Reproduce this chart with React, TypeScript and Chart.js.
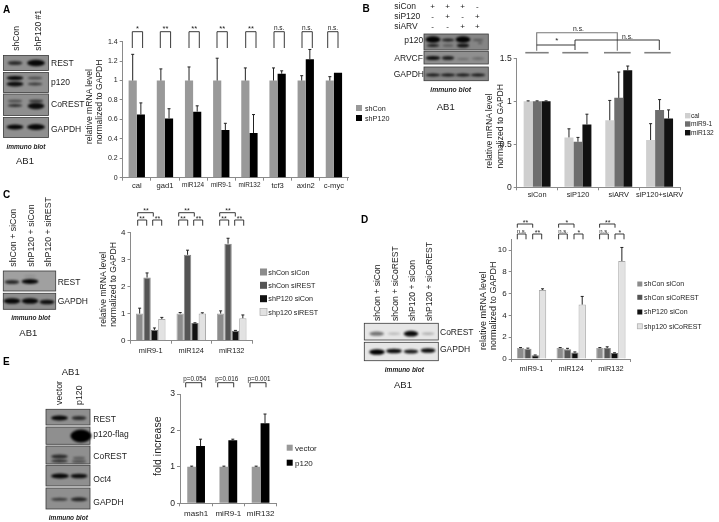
import React, { useEffect, useRef } from "react";
import { Chart, registerables } from "chart.js";

Chart.register(...registerables);

// ---------- data ----------
const aCategories = ["cal", "gad1", "miR124", "miR9-1", "miR132", "tcf3", "axin2", "c-myc"];
const aShCon = [1, 1, 1, 1, 1, 1, 1, 1];
const aShP120 = [0.65, 0.61, 0.68, 0.49, 0.46, 1.07, 1.22, 1.08];
const aShConErr = [0.27, 0.12, 0.14, 0.23, 0.13, 0.13, 0.05, 0.04];
const aShP120Err = [0.12, 0.1, 0.06, 0.07, 0.19, 0.03, 0.1, 0];

const bCategories = ["siCon", "siP120", "siARV", "siP120+siARV"];
const bCal = [1, 0.58, 0.78, 0.55];
const bMiR9 = [1, 0.53, 1.04, 0.9];
const bMiR132 = [1, 0.73, 1.36, 0.8];
const bCalErr = [0.005, 0.1, 0.23, 0.19];
const bMiR9Err = [0.005, 0.05, 0.3, 0.12];
const bMiR132Err = [0.005, 0.12, 0.05, 0.1];

const cCategories = ["miR9-1", "miR124", "miR132"];
const cShConSiCon = [1, 1, 1];
const cShConSiRest = [2.33, 3.17, 3.58];
const cShP120SiCon = [0.4, 0.65, 0.37];
const cShp120SiRest = [0.8, 1.0, 0.83];
const cErr1 = [0.2, 0.04, 0.1];
const cErr2 = [0.17, 0.17, 0.2];
const cErr3 = [0.07, 0.01, 0.01];
const cErr4 = [0.06, 0.03, 0.12];

const dCategories = ["miR9-1", "miR124", "miR132"];
const dShConSiCon = [1, 1, 1];
const dShConSiCoRest = [0.95, 0.9, 1.0];
const dShP120SiCon = [0.35, 0.6, 0.55];
const dShp120SiCoRest = [6.35, 5.0, 9.0];
const dErr1 = [0.05, 0.05, 0.05];
const dErr2 = [0.05, 0.08, 0.12];
const dErr3 = [0.02, 0.05, 0.02];
const dErr4 = [0.1, 0.75, 1.25];

const eCategories = ["mash1", "miR9-1", "miR132"];
const eVector = [1, 1, 1];
const eP120 = [1.57, 1.73, 2.2];
const eVectorErr = [0.02, 0.02, 0.02];
const eP120Err = [0.19, 0.03, 0.25];

// ---------- chart plumbing ----------
const FONT = "'Liberation Sans', Arial, sans-serif";
const TXT = "#222";
const AXIS = "#8a8a8a";

const errorBars = {
  id: "errorBars",
  afterDatasetsDraw(chart: any) {
    const { ctx } = chart;
    const y = chart.scales.y;
    chart.data.datasets.forEach((ds: any, i: number) => {
      const meta = chart.getDatasetMeta(i);
      meta.data.forEach((el: any, j: number) => {
        const err = ds.errors[j];
        if (!err) return;
        const y0 = y.getPixelForValue(ds.data[j]);
        const y1 = y.getPixelForValue(ds.data[j] + err);
        ctx.save();
        ctx.strokeStyle = "#222";
        ctx.lineWidth = 1;
        ctx.beginPath();
        ctx.moveTo(el.x, y0);
        ctx.lineTo(el.x, y1);
        ctx.moveTo(el.x - 1.5, y1);
        ctx.lineTo(el.x + 1.5, y1);
        ctx.stroke();
        ctx.restore();
      });
    });
  },
};

type Series = { label: string; data: number[]; errors: number[]; color: string; border?: string };
type PanelCfg = {
  left: number; right: number; top: number; bottom: number;
  categories: string[]; series: Series[]; max: number; step: number; tickTop?: number;
  group: number; xFont: (l: string) => number; yFont: number; xPad: number;
};

const panels: PanelCfg[] = [
  {
    left: 122.7, right: 348, top: 41.7, bottom: 177.7, categories: aCategories, max: 1.4, step: 0.2,
    group: 0.58, xFont: (l) => (l.startsWith("miR") ? 6.4 : 7.6), yFont: 7, xPad: 1,
    series: [
      { label: "shCon", data: aShCon, errors: aShConErr, color: "#999999" },
      { label: "shP120", data: aShP120, errors: aShP120Err, color: "#000000" },
    ],
  },
  {
    left: 516.7, right: 680, top: 58.3, bottom: 187.3, categories: bCategories, max: 1.5, step: 0.5,
    group: 0.66, xFont: () => 7.4, yFont: 8.6, xPad: 0,
    series: [
      { label: "cal", data: bCal, errors: bCalErr, color: "#cfcfcf" },
      { label: "miR9-1", data: bMiR9, errors: bMiR9Err, color: "#6e6e6e" },
      { label: "miR132", data: bMiR132, errors: bMiR132Err, color: "#111111" },
    ],
  },
  {
    left: 130.5, right: 252, top: 232.3, bottom: 340.7, categories: cCategories, max: 4, step: 1,
    group: 0.73, xFont: () => 7.4, yFont: 8, xPad: 3,
    series: [
      { label: "shCon siCon", data: cShConSiCon, errors: cErr1, color: "#8c8c8c", border: "#a8a8a8" },
      { label: "shCon siREST", data: cShConSiRest, errors: cErr2, color: "#555555", border: "#8a8a8a" },
      { label: "shP120 siCon", data: cShP120SiCon, errors: cErr3, color: "#111111", border: "#777777" },
      { label: "shp120 siREST", data: cShp120SiRest, errors: cErr4, color: "#e2e2e2", border: "#aaaaaa" },
    ],
  },
  {
    left: 511.7, right: 630.7, top: 239.3, bottom: 359, categories: dCategories, max: 11, step: 2, tickTop: 10,
    group: 0.74, xFont: () => 7.4, yFont: 8, xPad: 3,
    series: [
      { label: "shCon siCon", data: dShConSiCon, errors: dErr1, color: "#8c8c8c", border: "#a8a8a8" },
      { label: "shCon siCoREST", data: dShConSiCoRest, errors: dErr2, color: "#555555", border: "#8a8a8a" },
      { label: "shP120 siCon", data: dShP120SiCon, errors: dErr3, color: "#111111", border: "#777777" },
      { label: "shp120 siCoREST", data: dShp120SiCoRest, errors: dErr4, color: "#e2e2e2", border: "#aaaaaa" },
    ],
  },
  {
    left: 180, right: 276.7, top: 394, bottom: 503.3, categories: eCategories, max: 3, step: 1,
    group: 0.55, xFont: () => 8, yFont: 8.6, xPad: 3,
    series: [
      { label: "vector", data: eVector, errors: eVectorErr, color: "#999999" },
      { label: "p120", data: eP120, errors: eP120Err, color: "#000000" },
    ],
  },
];

function PanelChart({ cfg }: { cfg: PanelCfg }) {
  const ref = useRef<HTMLCanvasElement>(null);
  const yw = 26;
  const xh = 18;
  const pad = 10;
  const boxLeft = Math.floor(cfg.left - yw);
  const boxTop = Math.floor(cfg.top - pad);
  const width = Math.ceil(cfg.right + pad) - boxLeft;
  const height = Math.ceil(cfg.bottom + xh) - boxTop;
  useEffect(() => {
    const chart = new Chart(ref.current as HTMLCanvasElement, {
      type: "bar",
      data: {
        labels: cfg.categories,
        datasets: cfg.series.map((s) => ({
          label: s.label,
          data: s.data,
          errors: s.errors,
          backgroundColor: s.color,
          borderColor: s.border ?? s.color,
          borderWidth: s.border ? 1 : 0,
          barPercentage: 1,
          categoryPercentage: cfg.group,
        })) as any,
      },
      options: {
        responsive: false,
        animation: false,
        maintainAspectRatio: false,
        layout: {
          padding: {
            left: 0,
            top: cfg.top - boxTop,
            right: boxLeft + width - cfg.right,
            bottom: 0,
          },
        },
        plugins: { legend: { display: false }, title: { display: false }, tooltip: { enabled: false } },
        scales: {
          x: {
            grid: { drawOnChartArea: false, drawTicks: true, tickLength: 3, color: AXIS },
            border: { display: true, color: AXIS },
            ticks: {
              autoSkip: false,
              maxRotation: 0,
              minRotation: 0,
              padding: cfg.xPad,
              color: TXT,
              font: (ctx: any) => ({
                family: FONT,
                size: cfg.xFont(cfg.categories[ctx.index] ?? ""),
              }),
            },
            afterFit: (s: any) => {
              s.height = height - (cfg.bottom - boxTop);
            },
          },
          y: {
            min: 0,
            max: cfg.max,
            grid: { drawOnChartArea: false, drawTicks: true, tickLength: 3, color: AXIS },
            border: { display: true, color: AXIS },
            ticks: {
              stepSize: cfg.step,
              padding: 2,
              color: TXT,
              font: { family: FONT, size: cfg.yFont },
              callback: (v: any) => String(Math.round(Number(v) * 10) / 10),
            },
            afterBuildTicks: (s: any) => {
              if (cfg.tickTop) s.ticks = s.ticks.filter((t: any) => t.value <= (cfg.tickTop as number));
            },
            afterFit: (s: any) => {
              s.width = cfg.left - boxLeft;
            },
          },
        },
      } as any,
      plugins: [errorBars as any],
    });
    return () => chart.destroy();
  }, []);
  return (
    <canvas
      ref={ref}
      width={width}
      height={height}
      style={{ position: "absolute", left: boxLeft, top: boxTop, width, height, display: "block" }}
    />
  );
}

// ---------- overlay helpers ----------
const T = ({ x, y, s = 8.5, a = "start", b = false, i = false, c = TXT, children }: any) => (
  <text x={x} y={y} fontSize={s} textAnchor={a} fontWeight={b ? 700 : 400} fontStyle={i ? "italic" : "normal"} fill={c}>
    {children}
  </text>
);
const RT = ({ x, y, s = 8.5, c = TXT, children }: any) => (
  <text transform={`translate(${x} ${y}) rotate(-90)`} fontSize={s} fill={c}>
    {children}
  </text>
);
const Br = ({ x1, x2, y1, y2, c = "#222", w = 0.9 }: any) => (
  <path d={`M${x1} ${y2}V${y1}H${x2}V${y2}`} fill="none" stroke={c} strokeWidth={w} />
);
type Band = [number, number, number, number, number];
const Blot = ({ x, y, w, h, bg = "#8f8f8f", bands }: { x: number; y: number; w: number; h: number; bg?: string; bands: Band[] }) => (
  <g>
    <rect x={x} y={y} width={w} height={h} fill={bg} stroke="#3a3a3a" strokeWidth={0.8} />
    {bands.map((b, i) => (
      <ellipse key={i} cx={b[0]} cy={b[1]} rx={b[2] * 1.05} ry={b[3] * 1.3} fill="#000" opacity={b[4]} filter="url(#blur)" />
    ))}
  </g>
);
const Leg = ({ x, y, w = 6, color, border, tx, s = 7.2, label }: any) => (
  <g>
    <rect x={x} y={y - w / 2} width={w} height={w} fill={color} stroke={border ?? "none"} strokeWidth={0.7} />
    <T x={tx} y={y + s * 0.35} s={s}>{label}</T>
  </g>
);
const Y2 = ({ x1, x2, y, s, l1 = "relative mRNA level", l2 = "normalized to GAPDH" }: any) => (
  <g>
    <RT x={x1} y={y} s={s}>{l1}</RT>
    <RT x={x2} y={y} s={s}>{l2}</RT>
  </g>
);
const Mark = ({ x, y, s = 7, children }: any) => <T x={x} y={y} s={s} a="middle">{children}</T>;

const aMarks = ["*", "**", "**", "**", "**", "n.s.", "n.s.", "n.s."];
const aBrackets = [132.3, 160.3, 189, 217, 245.7, 274, 302, 327.7];
const bPlus = [
  ["+", "+", "+", "-"],
  ["-", "+", "-", "+"],
  ["-", "-", "+", "+"],
];
const bRows = ["siCon", "siP120", "siARV"];

function Overlay() {
  return (
    <svg width={719} height={522} style={{ position: "absolute", left: 0, top: 0, fontFamily: FONT, pointerEvents: "none" }}>
      <defs>
        <filter id="blur" x="-30%" y="-80%" width="160%" height="260%">
          <feGaussianBlur stdDeviation="0.9" />
        </filter>
      </defs>

      {/* A */}
      <T x={3} y={12.7} s={10} b c="#000">A</T>
      <RT x={18.5} y={50.7}>shCon</RT>
      <RT x={41} y={50.7}>shP120 #1</RT>
      <Blot x={3.5} y={55.5} w={45} h={15} bands={[[15, 63, 7, 1.5, 0.7], [36, 63, 8.5, 2.5, 0.95]]} />
      <Blot x={3.5} y={72.5} w={45} h={20} bands={[[15, 78, 8, 1.5, 0.95], [15, 84, 8, 2, 0.9], [35, 78, 7, 1, 0.5], [35, 84, 7, 1.2, 0.6]]} />
      <Blot x={3.5} y={94} w={45} h={21.5} bands={[[15, 101, 7, 1, 0.5], [15, 105.5, 7, 1.2, 0.7], [36, 101, 7, 1, 0.7], [36, 106, 8, 2.5, 0.9]]} />
      <Blot x={3.5} y={117.5} w={45} h={20} bands={[[15, 127, 8, 2, 0.95], [36, 127, 8.5, 2.3, 0.95]]} />
      <T x={51} y={66}>REST</T>
      <T x={51} y={85}>p120</T>
      <T x={51} y={107}>CoREST</T>
      <T x={51} y={132}>GAPDH</T>
      <T x={26} y={149} s={6.5} a="middle" b i c="#222">immuno blot</T>
      <T x={25} y={164} s={9.5} a="middle">AB1</T>
      <Y2 x1={92} x2={102} y={144} s={8.6} />
      {aBrackets.map((cx, i) => (
        <g key={i}>
          <Br x1={cx} x2={cx + 10.3} y1={31.7} y2={48} />
          <Mark x={cx + 5.2} y={aMarks[i] === "n.s." ? 30 : 30.5} s={aMarks[i] === "n.s." ? 6.5 : 7.5}>{aMarks[i]}</Mark>
        </g>
      ))}
      <Leg x={356} y={108} color="#999999" tx={365} label="shCon" />
      <Leg x={356} y={118} color="#000000" tx={365} label="shP120" />

      {/* B */}
      <T x={362.5} y={12} s={10} b c="#000">B</T>
      {bRows.map((r, i) => (
        <g key={r}>
          <T x={394.3} y={9 + i * 10.2}>{r}</T>
          {bPlus[i].map((p, j) => (
            <T key={j} x={432.7 + j * 14.9} y={9 + i * 10.2} a="middle" s={8}>{p}</T>
          ))}
        </g>
      ))}
      <Blot x={424} y={34} w={64.3} h={16} bg="#858585" bands={[[433, 39.5, 7, 2.5, 0.98], [433, 45.5, 6, 1.2, 0.8], [448, 40, 6, 1.2, 0.8], [448, 45.5, 5, 0.8, 0.4], [463, 39.5, 7, 2.5, 0.98], [463, 45.5, 6, 1.5, 0.85], [478, 40, 5, 0.8, 0.4], [480, 43, 2, 0.6, 0.5]]} />
      <Blot x={424} y={51.3} w={64.3} h={12.7} bands={[[433, 58, 7, 1.6, 0.9], [448, 58, 6, 1.5, 0.8], [463, 59, 6, 0.8, 0.25], [478, 58.5, 6, 0.9, 0.3]]} />
      <Blot x={424} y={67} w={64.3} h={13.7} bg="#858585" bands={[[433, 75, 7, 1.2, 0.85], [448, 75, 7, 1.2, 0.85], [463, 75, 7, 1.2, 0.85], [478, 75, 7, 1.2, 0.85]]} />
      <T x={404.3} y={42.7}>p120</T>
      <T x={394.3} y={60.5}>ARVCF</T>
      <T x={393.7} y={77}>GAPDH</T>
      <T x={450.7} y={91.7} s={6.8} a="middle" b i c="#222">immuno blot</T>
      <T x={445.7} y={109.5} s={9.5} a="middle">AB1</T>
      <Y2 x1={492} x2={503} y={168.5} s={8.6} />
      {[[525.3, 548.7], [562.3, 588.3], [604, 630.7], [644.3, 670.7]].map((r, i) => (
        <line key={i} x1={r[0]} x2={r[1]} y1={52.7} y2={52.7} stroke="#808080" strokeWidth={1.6} />
      ))}
      <Br x1={536.7} x2={617.3} y1={32.7} y2={50.7} c="#777" w={1.1} />
      <path d="M536.7 45H575V50M575 45V40H659.3V50" fill="none" stroke="#222" strokeWidth={0.9} />
      <T x={556.7} y={43} s={8} a="middle">*</T>
      <T x={578.5} y={30.5} s={6.8} a="middle">n.s.</T>
      <T x={627.5} y={38.5} s={6.8} a="middle">n.s.</T>
      <Leg x={685} y={115.7} w={5.4} color="#cfcfcf" tx={691} s={6.6} label="cal" />
      <Leg x={685} y={124} w={5.4} color="#6e6e6e" tx={691} s={6.6} label="miR9-1" />
      <Leg x={685} y={132.7} w={5.4} color="#111111" tx={691} s={6.6} label="miR132" />

      {/* C */}
      <T x={3} y={198} s={10} b c="#000">C</T>
      <RT x={15.5} y={266.7} s={8.8}>shCon + siCon</RT>
      <RT x={34} y={266.7} s={8.8}>shP120 + siCon</RT>
      <RT x={50.5} y={266.7} s={8.8}>shP120 + siREST</RT>
      <Blot x={3.3} y={271} w={52.4} h={20} bg="#a0a0a0" bands={[[12, 282, 7, 1.5, 0.75], [30, 281.5, 8, 2, 0.95], [30, 276, 6, 0.6, 0.15]]} />
      <Blot x={3.3} y={293.3} w={52.4} h={16} bands={[[12, 301, 8, 2.2, 0.95], [30, 301, 8, 2.2, 0.95], [47, 302, 7, 1.8, 0.9]]} />
      <T x={57.7} y={285}>REST</T>
      <T x={57.7} y={304}>GAPDH</T>
      <T x={30.7} y={319.5} s={6.5} a="middle" b i c="#222">immuno blot</T>
      <T x={28.3} y={336} s={9.5} a="middle">AB1</T>
      <Y2 x1={106} x2={116} y={326.7} s={8.6} />
      {[0, 41, 82].map((dx) => (
        <g key={dx}>
          <Br x1={137.7 + dx} x2={153.3 + dx} y1={212.7} y2={216.5} />
          <Br x1={137.7 + dx} x2={146.7 + dx} y1={220} y2={225.7} />
          <Br x1={152.7 + dx} x2={161.7 + dx} y1={220} y2={225.7} />
          <Mark x={146 + dx} y={213}>**</Mark>
          <Mark x={142 + dx} y={221}>**</Mark>
          <Mark x={157.5 + dx} y={221}>**</Mark>
        </g>
      ))}
      <Leg x={260} y={272} w={7} color="#8c8c8c" tx={268.3} label="shCon siCon" />
      <Leg x={260} y={285.3} w={7} color="#555555" tx={268.3} label="shCon siREST" />
      <Leg x={260} y={298.7} w={7} color="#111111" tx={268.3} label="shP120 siCon" />
      <Leg x={260} y={312} w={7} color="#e2e2e2" border="#aaa" tx={268.3} label="shp120 siREST" />

      {/* D */}
      <T x={361} y={222.5} s={10} b c="#000">D</T>
      <RT x={380} y={321} s={8.6}>shCon + siCon</RT>
      <RT x={397.5} y={321} s={8.6}>shCon + siCoREST</RT>
      <RT x={414.5} y={321} s={8.6}>shP120 + siCon</RT>
      <RT x={431.5} y={321} s={8.6}>shP120 + siCoREST</RT>
      <Blot x={364.3} y={323.3} w={74} h={16.7} bg="#e6e6e6" bands={[[376.7, 333.7, 7, 1.6, 0.5], [394, 333.7, 6, 1, 0.2], [411, 333.7, 7, 2.2, 0.95], [428, 333.7, 6, 1, 0.25]]} />
      <Blot x={364.3} y={342.3} w={74} h={18.4} bg="#e6e6e6" bands={[[377, 352, 7.5, 2.2, 1], [394, 351, 7.5, 1.8, 0.95], [411, 351.5, 7, 1.6, 0.9], [428, 350.5, 7, 1.8, 0.95]]} />
      <T x={440} y={335}>CoREST</T>
      <T x={440} y={352}>GAPDH</T>
      <T x={404.3} y={371.5} s={6.5} a="middle" b i c="#222">immuno blot</T>
      <T x={403} y={388} s={9.5} a="middle">AB1</T>
      <Y2 x1={485.5} x2={495.5} y={350} s={9} />
      {([[0, "**", "**"], [41.3, "*", "*"], [82.3, "**", "*"]] as any[]).map(([dx, top, right], i) => (
        <g key={i}>
          <Br x1={517.3 + dx} x2={532.7 + dx} y1={224} y2={227.7} />
          <Br x1={517.3 + dx} x2={526 + dx} y1={234} y2={239.3} />
          <Br x1={532.7 + dx} x2={541.7 + dx} y1={234} y2={239.3} />
          <Mark x={525.5 + dx} y={224.5}>{top}</Mark>
          <Mark x={521.7 + dx} y={233} s={6}>n.s.</Mark>
          <Mark x={537.5 + dx} y={234.5}>{right}</Mark>
        </g>
      ))}
      <Leg x={637.3} y={284} w={5} color="#8c8c8c" tx={644} s={7} label="shCon siCon" />
      <Leg x={637.3} y={297.3} w={5} color="#555555" tx={644} s={7} label="shCon siCoREST" />
      <Leg x={637.3} y={312} w={5} color="#111111" tx={644} s={7} label="shP120 siCon" />
      <Leg x={637.3} y={326.3} w={5} color="#e2e2e2" border="#aaa" tx={644} s={7} label="shp120 siCoREST" />

      {/* E */}
      <T x={3} y={365} s={10} b c="#000">E</T>
      <T x={70.7} y={375} s={9.5} a="middle">AB1</T>
      <RT x={62} y={405} s={8.8}>vector</RT>
      <RT x={82} y={405} s={8.8}>p120</RT>
      <Blot x={46} y={409.3} w={44} h={15.7} bands={[[59.5, 418, 8, 2, 0.95], [79, 418, 7, 1.5, 0.7]]} />
      <Blot x={46} y={427} w={44} h={17.3} bands={[[81, 436, 10, 5, 1]]} />
      <Blot x={46} y={446} w={44} h={18} bands={[[59.5, 456.5, 8, 1.5, 0.7], [59.5, 461, 8, 1.2, 0.7], [79, 458, 6, 1, 0.4], [79, 461.5, 7, 1, 0.5]]} />
      <Blot x={46} y={465.3} w={44} h={20.7} bands={[[60, 476, 8.5, 2, 0.95], [79, 476, 8, 1.8, 0.9]]} />
      <Blot x={46} y={488} w={44} h={21} bands={[[59.5, 499.3, 8, 1.2, 0.6], [79, 499.3, 8, 1.5, 0.75]]} />
      <T x={93.3} y={421.5}>REST</T>
      <T x={93.3} y={437}>p120-flag</T>
      <T x={93.3} y={459}>CoREST</T>
      <T x={93.3} y={481.5}>Oct4</T>
      <T x={93.3} y={505}>GAPDH</T>
      <T x={68.3} y={519.5} s={6.5} a="middle" b i c="#222">immuno blot</T>
      <RT x={160.5} y={476} s={10.5}>fold increase</RT>
      {([[185.7, "p=0.054"], [217.7, "p=0.016"], [250, "p=0.001"]] as any[]).map(([x, p], i) => (
        <g key={i}>
          <Br x1={x} x2={x + 16} y1={382.7} y2={387.3} />
          <T x={x + 9} y={381} s={6.3} a="middle">{p}</T>
        </g>
      ))}
      <Leg x={286.7} y={447.7} color="#999999" tx={295} s={8} label="vector" />
      <Leg x={286.7} y={462.7} color="#000000" tx={295} s={8} label="p120" />
    </svg>
  );
}

export default function App() {
  return (
    <div style={{ position: "absolute", left: 0, top: 0, width: 719, height: 522, background: "#fff", overflow: "hidden", filter: "blur(0.35px)" }}>
      {panels.map((p, i) => (
        <PanelChart key={i} cfg={p} />
      ))}
      <Overlay />
    </div>
  );
}
